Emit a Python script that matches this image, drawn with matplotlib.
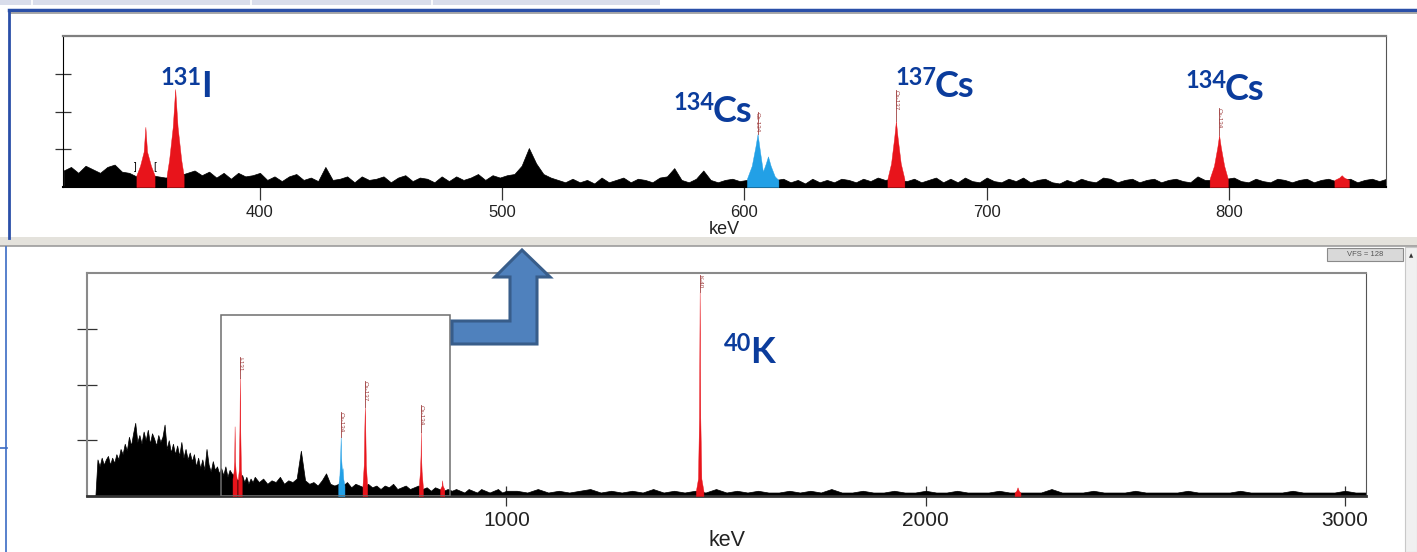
import matplotlib
matplotlib.use("Agg")
import matplotlib.pyplot as plt
from matplotlib.patches import Rectangle, Polygon
from matplotlib.lines import Line2D
import numpy as np

W, H = 1417, 552

# ---- zoomed spectrum (top panel): counts per 3 keV bin from 319 keV
top_start, top_step = 319, 3
top_counts = [
    14, 17, 12, 18, 15, 12, 17, 19, 13, 12,   # 319
    9, 8, 10, 9, 8, 9, 10, 12, 14, 10,        # 349
    13, 8, 12, 7, 12, 9, 10, 12, 6, 9,        # 379
    5, 9, 11, 6, 8, 5, 17, 6, 7, 9,           # 409
    4, 9, 6, 7, 9, 4, 8, 10, 5, 8,            # 439
    7, 4, 9, 5, 9, 6, 8, 11, 6, 10,           # 469
    8, 10, 11, 18, 33, 20, 11, 8, 6, 4,       # 499
    7, 4, 6, 3, 8, 4, 6, 8, 4, 7,             # 529
    6, 4, 8, 9, 16, 6, 4, 7, 14, 6,           # 559
    4, 6, 7, 5, 6, 8, 8, 7, 6, 7,             # 589
    4, 6, 3, 7, 4, 6, 4, 7, 6, 4,             # 619
    7, 5, 8, 6, 7, 6, 5, 7, 4, 6,             # 649
    8, 4, 7, 4, 8, 5, 4, 8, 5, 4,             # 679
    7, 5, 8, 4, 6, 7, 4, 3, 6, 4,             # 709
    7, 5, 4, 8, 7, 4, 6, 7, 4, 6,             # 739
    7, 4, 6, 7, 5, 4, 9, 6, 6, 6,             # 769
    7, 8, 5, 4, 7, 5, 4, 7, 6, 4,             # 799
    6, 7, 4, 6, 7, 5, 6, 7, 4, 6,             # 829
    7, 5, 7,                                  # 859
]
top_xlim = (318.7, 864.8)

# peaks in the top panel: (colour, energies, counts, label, label top)
top_peaks = [
    ("red",  [349, 350.5, 352, 352.7, 353.4, 355, 356.5], [10, 18, 30, 51, 30, 18, 10], None, None),
    ("red",  [361.5, 362.5, 364, 365, 366, 367.5, 368.5], [10, 23, 51, 83, 51, 23, 10], None, None),
    ("blue", [601, 603, 604.5, 605.4, 606.4, 607.6, 608.8, 609.7, 610.8, 612.5, 614],
             [7, 18, 34, 45, 30, 13, 20, 26, 18, 9, 6], "Cs-134", 64),
    ("red",  [659, 660.5, 661.8, 662.5, 663.2, 664.5, 666], [7, 20, 42, 56, 42, 20, 7], "Cs-137", 82),
    ("red",  [792, 793.8, 795.2, 795.9, 796.6, 798, 799.5], [7, 18, 34, 44, 34, 18, 7], "Cs-134", 67),
    ("red",  [843.5, 845.5, 846.5, 847.5, 849.5], [6, 8, 10, 8, 6], None, None),
]

# ---- full spectrum (bottom panel), three binnings
full_low_start, full_low_step = 20, 5
full_low = [
    0, 21, 17, 22, 18, 21, 23, 18, 22, 19, 24, 21,
    27, 24, 30, 26,
    34, 29, 36, 42, 31, 35, 30, 37, 32, 38, 30, 36, 33, 29, 35, 31, 34,
    41, 27, 32, 25, 30, 24, 29, 23, 31, 22, 27, 21, 25,
    20, 24, 17, 22, 16, 21, 15, 27, 18, 14, 20, 15, 17, 13,
    16, 12, 17, 11, 15, 13,
    12, 10, 9, 11, 12, 8, 11, 7, 10, 8, 11,
]
full_mid_start, full_mid_step = 410, 10
full_mid = [
    8, 10, 7, 9, 8, 11, 7, 9, 8, 10,
    26, 9, 7, 8, 6, 9, 13, 7, 6, 7,
    6, 8, 5, 7, 6, 5, 7, 5, 6, 4,
    6, 5, 7, 4, 5, 6, 4, 5, 6, 4,
    5, 3, 5, 4, 3, 4, 3, 4, 3, 2,
    4, 3, 2, 4, 3, 2, 3, 4, 2, 3,
]
full_high_start, full_high_step = 1025, 25
full_high = [
    3, 2, 4, 2, 3, 2, 3, 4, 2, 3,
    2, 3, 2, 4, 2, 3, 2, 3, 2, 4,
    2, 3, 2, 3, 2, 2, 3, 2, 3, 2,
    4, 2, 2, 3, 2, 2, 3, 2, 2, 3,
    2, 2, 3, 2, 2, 2, 3, 2, 2, 2,
    2, 4, 2, 2, 2, 3, 2, 2, 2, 3,
    2, 2, 2, 2, 3, 2, 2, 2, 2, 3,
    2, 2, 2, 2, 3, 2, 2, 2, 2, 3,
    2, 2,
]
full_xlim = (0, 3050)

full_peaks = [
    ("red",  [347, 349.5, 351, 352, 353, 354.5, 357], [10, 14, 20, 40, 20, 14, 10], None, None),
    ("red",  [360, 362, 363.5, 364.5, 365.5, 367, 369], [10, 15, 38, 68, 38, 15, 10], "I-131", 80),
    ("blue", [599, 602, 604, 605, 606, 608, 609.5, 611, 614], [6, 12, 25, 34, 22, 14, 16, 10, 6], "Cs-134", 48),
    ("red",  [657, 660, 661.5, 662.5, 663.5, 665, 668], [6, 18, 40, 51, 40, 18, 6], "Cs-137", 66),
    ("red",  [791, 794, 795.5, 796, 796.5, 798, 801], [5, 14, 24, 37, 24, 14, 5], "Cs-134", 52),
    ("red",  [842, 846, 847, 848, 852], [4, 6, 9, 6, 4], None, None),
    ("red",  [1452, 1457, 1459.5, 1461, 1462.5, 1465, 1470], [3, 10, 45, 117, 45, 10, 3], "K-40", 127),
    ("red",  [2212, 2216, 2219, 2222, 2226], [2, 3, 5, 3, 2], None, None),
]

# blue nuclide annotations: (mass number, symbol, x px, baseline px)
nuclides = [
    ("131", "I", 201, 97),
    ("134", "Cs", 713, 122),
    ("137", "Cs", 935, 97),
    ("134", "Cs", 1225, 100),
    ("40", "K", 750, 363),
]

colors = {"red": "#E8141B", "blue": "#22A0E6"}
label_col = "#A04040"
nuc_col = "#0B3C9C"

plt.rcParams['font.family'] = ['Liberation Sans', 'DejaVu Sans']

fig = plt.figure(figsize=(W / 100, H / 100), dpi=100)
fig.patch.set_facecolor("white")


def fx(x):
    return x / W


def fy(y):
    return 1 - y / H


def fig_rect(x0, y0, x1, y1, **kw):
    fig.patches.append(Rectangle((fx(x0), fy(y1)), (x1 - x0) / W, (y1 - y0) / H,
                                 transform=fig.transFigure, **kw))


def fig_line(xs, ys, **kw):
    fig.add_artist(Line2D([fx(x) for x in xs], [fy(y) for y in ys],
                          transform=fig.transFigure, **kw))


# window chrome
fig_rect(0, 0, 660, 5, color="#D9DDEB", lw=0)
for sx in [32, 251, 432]:
    fig_line([sx, sx], [0, 5], color="white", lw=1.2)
fig_line([9, W], [10, 10], color="#2A4FA8", lw=2.5)
fig_line([10, W], [13, 13], color="#9A9A9A", lw=1.2)
fig_line([9, 9], [10, 238], color="#2A4FA8", lw=2)
fig_rect(0, 237, W, 246, color="#E4E2DC", lw=0)
fig_line([0, W], [246.5, 246.5], color="#9C9C9C", lw=1.2)
fig_line([6, 6], [247, H], color="#3B6BC4", lw=1.2)
fig_line([0, 7], [448, 448], color="#3B6BC4", lw=1.2)
fig_rect(1405, 247, W, H, facecolor="#F0F0F0", edgecolor="#C8C8C8", lw=0.8)
fig.text(fx(1411), fy(256), "\u25B2", fontsize=4, ha="center", va="center",
         color="#333333", family=["DejaVu Sans"])
fig_rect(1327, 248, 1403, 261, facecolor="#D9D9D9", edgecolor="#8A8A8A", lw=0.8)
fig.text(fx(1365), fy(254.5), "VFS = 128", fontsize=5.5, ha="center", va="center",
         color="#555555")


def draw_panel(ax, energies, counts, peaks, label_size):
    ax.fill_between(energies, 0, counts, color="black", lw=0.5, zorder=2)
    for col, pe, pc, lab, ltop in peaks:
        ax.fill_between(pe, 0, pc, color=colors[col], lw=0.3, zorder=3)
        if lab:
            xpk = pe[int(np.argmax(pc))]
            ax.plot([xpk, xpk], [max(pc), ltop], color=label_col, lw=0.6, zorder=3)
            ax.text(xpk, ltop, lab, rotation=-90, ha="center", va="top",
                    fontsize=label_size, color=label_col, zorder=4)


# ---- top panel
ax1 = fig.add_axes([fx(63), fy(187), (1386 - 63) / W, (187 - 36) / H])
top_e = top_start + top_step * np.arange(len(top_counts))
draw_panel(ax1, top_e, top_counts, top_peaks, 4.5)
ax1.set_xlim(*top_xlim)
ax1.set_ylim(0, 128)
ax1.set_xticks([400, 500, 600, 700, 800])
ax1.set_yticks([32, 64, 96])
ax1.tick_params(axis="y", direction="inout", length=11, width=0.9, color="#333333", labelleft=False)
ax1.tick_params(axis="x", direction="out", length=9, width=0.9, color="#333333",
                labelsize=12, pad=4, labelcolor="#222222")
ax1.set_xlabel("keV", fontsize=13, labelpad=1, color="#222222")
ax1.spines["left"].set_color("black")
ax1.spines["bottom"].set_color("black")
ax1.spines["bottom"].set_linewidth(1.5)
ax1.spines["top"].set_color("#7F7F7F")
ax1.spines["top"].set_linewidth(1.6)
ax1.spines["right"].set_color("#555555")
# ROI brackets around the 352 keV peak
ax1.text(349.0, 13, "]", fontsize=7, ha="right", va="bottom", color="black")
ax1.text(356.0, 13, "[", fontsize=7, ha="left", va="bottom", color="black")

# ---- bottom panel
ax2 = fig.add_axes([fx(87), fy(496), (1366 - 87) / W, (496 - 273) / H])
full_e = np.concatenate([
    full_low_start + full_low_step * np.arange(len(full_low)),
    full_mid_start + full_mid_step * np.arange(len(full_mid)),
    full_high_start + full_high_step * np.arange(len(full_high)),
])
full_c = np.concatenate([full_low, full_mid, full_high])
draw_panel(ax2, full_e, full_c, full_peaks, 4.5)
ax2.set_xlim(*full_xlim)
ax2.set_ylim(0, 128)
ax2.set_xticks([1000, 2000, 3000])
ax2.set_yticks([32, 64, 96])
ax2.tick_params(axis="y", direction="inout", length=14, width=0.9, color="#333333", labelleft=False)
ax2.tick_params(axis="x", direction="inout", length=15, width=0.9, color="#333333",
                labelsize=15, pad=3, labelcolor="#222222")
ax2.set_xlabel("keV", fontsize=15.5, labelpad=0, color="#222222")
for s in ["left", "top"]:
    ax2.spines[s].set_color("#8A8A8A")
    ax2.spines[s].set_linewidth(1.5)
ax2.spines["right"].set_color("#555555")
ax2.spines["bottom"].set_color("#333333")
ax2.spines["bottom"].set_linewidth(2)

# zoom window marking the top panel range
ax2.add_patch(Rectangle((top_xlim[0], 0), top_xlim[1] - top_xlim[0], 104,
                        fill=False, edgecolor="#6E6E6E", lw=1.1, zorder=5))

# bent arrow from the zoom window to the top panel
arrow_px = [(452, 321), (510, 321), (510, 277), (495, 277), (522, 250), (550, 277),
            (537, 277), (537, 344), (452, 344)]
fig.patches.append(Polygon([(fx(x), fy(y)) for x, y in arrow_px], closed=True,
                           transform=fig.transFigure, facecolor="#4F81BD",
                           edgecolor="#385D8A", lw=2.2, zorder=10))

# nuclide names
for mass, sym, x, base in nuclides:
    fig.text(fx(x), fy(base), sym, fontsize=26, fontweight="bold", color=nuc_col,
             family=["Lato", "DejaVu Sans"], ha="left", va="baseline", zorder=11)
    fig.text(fx(x + 1), fy(base - 12), mass, fontsize=17, fontweight="bold", color=nuc_col,
             family=["Lato", "DejaVu Sans"], ha="right", va="baseline", zorder=11)

fig.savefig("out.png", dpi=100)
